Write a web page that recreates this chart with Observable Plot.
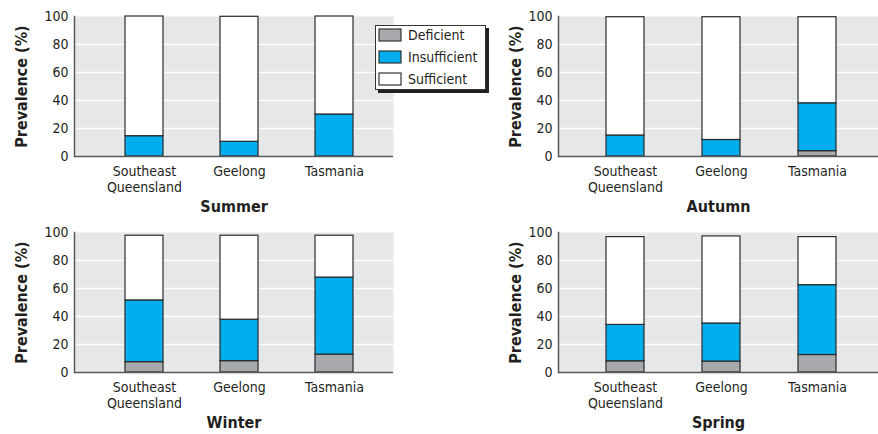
<!DOCTYPE html>
<html><head><meta charset="utf-8">
<script src="https://cdn.jsdelivr.net/npm/d3@7"></script>
<script src="https://cdn.jsdelivr.net/npm/@observablehq/plot@0.6"></script>
<style>
body{margin:0;background:#fff;}
#chart{position:relative;width:878px;height:434px;font-family:"Liberation Sans Narrow","DejaVu Sans Condensed",sans-serif;color:#231f20;}
.panel{position:absolute;}
.panel svg{overflow:visible;}
g[aria-label="x-axis label"] text, g[aria-label="y-axis label"] text{font-weight:bold;}
g[aria-label="x-axis label"] text{font-size:16px;}
g[aria-label="y-axis label"] text{font-size:16px;}
#legend{position:absolute;left:375px;top:25px;width:106px;height:63px;border:1.5px solid #333;background:#fff;box-shadow:3px 3px 0 #222;padding:0 0 0 3px;box-sizing:content-box;overflow:hidden;}
#legend > div{margin:0 !important;position:relative;top:-1.5px;}
#legend > div > div{height:21.8px;padding:0 !important;margin:0 !important;}
#legend svg rect{stroke:#333;stroke-width:1.2px;}
</style>
</head><body>
<div id="chart"></div>
<script>
const FONT = '"Liberation Sans Narrow","DejaVu Sans Condensed",sans-serif';
const regions = ["Southeast Queensland", "Geelong", "Tasmania"];
const categories = ["Deficient", "Insufficient", "Sufficient"];
const colors = ["#a7a9ac", "#00aeef", "#ffffff"];
const yTicks = [0, 20, 40, 60, 80, 100];
const seasons = ["Summer", "Autumn", "Winter", "Spring"];

const summerDeficient    = [0, 0, 0];
const summerInsufficient = [14.5, 10.5, 30];
const summerSufficient   = [85.5, 89.3, 70];

const autumnDeficient    = [0, 0, 3.8];
const autumnInsufficient = [15, 11.8, 34.2];
const autumnSufficient   = [84.5, 87.7, 61.5];

const winterDeficient    = [7.4, 8.1, 12.8];
const winterInsufficient = [44.1, 29.6, 55];
const winterSufficient   = [46.2, 60, 29.9];

const springDeficient    = [8, 7.8, 12.5];
const springInsufficient = [26, 27.2, 49.9];
const springSufficient   = [62.7, 62.2, 34.3];

function table(def, ins, suf) {
  const rows = [];
  regions.forEach((r, i) => {
    rows.push({region: r, category: "Deficient", value: def[i]});
    rows.push({region: r, category: "Insufficient", value: ins[i]});
    rows.push({region: r, category: "Sufficient", value: suf[i]});
  });
  return rows.filter(d => d.value > 0);
}

const seasonData = {
  Summer: table(summerDeficient, summerInsufficient, summerSufficient),
  Autumn: table(autumnDeficient, autumnInsufficient, autumnSufficient),
  Winter: table(winterDeficient, winterInsufficient, winterSufficient),
  Spring: table(springDeficient, springInsufficient, springSufficient)
};

const layout = {
  Summer: {left: 0, top: 0, mLeft: 74, mRight: 46, range: [124, 353.5], yOff: 59},
  Autumn: {left: 439, top: 0, mLeft: 119, mRight: 0, range: [167, 398], yOff: 49},
  Winter: {left: 0, top: 216, mLeft: 74, mRight: 46, range: [124, 353.5], yOff: 59},
  Spring: {left: 439, top: 216, mLeft: 119, mRight: 0, range: [167, 398], yOff: 49}
};

const chart = document.getElementById("chart");
for (const s of seasons) {
  const L = layout[s];
  const p = Plot.plot({
    width: 439, height: 216,
    marginTop: 16, marginBottom: 60, marginLeft: L.mLeft, marginRight: L.mRight,
    style: {fontFamily: FONT, fontSize: "14px", color: "#231f20", background: "transparent"},
    x: {domain: regions, range: L.range, paddingInner: 0.6, paddingOuter: 0, axis: null},
    y: {domain: [0, 100], axis: null},
    color: {domain: categories, range: colors},
    marks: [
      Plot.frame({fill: "#e6e7e8", stroke: null}),
      Plot.ruleY([20, 40, 60, 80], {stroke: "#fff", strokeWidth: 1.5}),
      Plot.barY(seasonData[s], {x: "region", y: "value", fill: "category", stroke: "#2b2b2b", strokeWidth: 1.2, order: categories}),
      Plot.frame({anchor: "left", stroke: "#58595b", strokeWidth: 1.5}),
      Plot.ruleY([0], {stroke: "#58595b", strokeWidth: 1.5}),
      Plot.axisX({tickSize: 0, tickPadding: 9, lineHeight: 1.1, tickFormat: d => d.replace(" ", "\n"),
        label: s, labelAnchor: "center", labelOffset: 55, labelArrow: "none"}),
      Plot.axisY({ticks: yTicks, tickSize: 0, tickPadding: 6,
        label: "Prevalence (%)", labelAnchor: "center", labelOffset: L.yOff, labelArrow: "none"})
    ]
  });
  p.classList.add("panel");
  p.style.left = L.left + "px";
  p.style.top = L.top + "px";
  chart.appendChild(p);
}

const leg = Plot.legend({
  color: {domain: categories, range: colors},
  legend: "swatches", columns: 1, swatchWidth: 22, swatchHeight: 12,
  style: {fontFamily: FONT, fontSize: "14px", color: "#231f20"}
});
const lw = document.createElement("div");
lw.id = "legend";
lw.appendChild(leg);
chart.appendChild(lw);
</script>
</body></html>
